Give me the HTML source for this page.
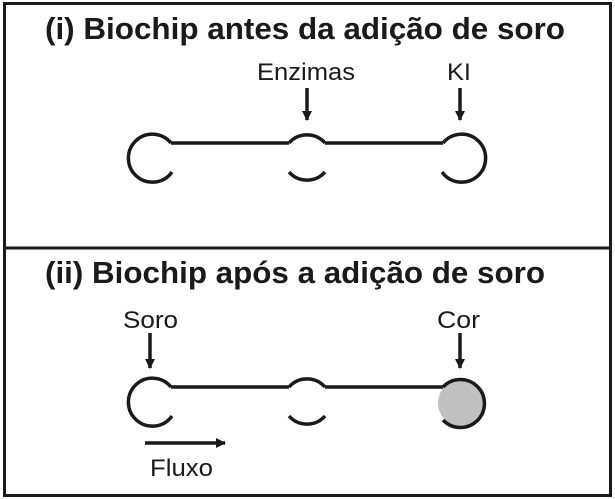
<!DOCTYPE html>
<html><head><meta charset="utf-8"><style>
html,body{margin:0;padding:0;background:#fff}
svg{display:block}
text{font-family:"Liberation Sans",Arial,sans-serif;fill:#1a1a1a}
</style></head><body>
<svg width="615" height="499" viewBox="0 0 615 499" xmlns="http://www.w3.org/2000/svg">
<defs><marker id="a" markerWidth="10" markerHeight="10" refX="9" refY="5" orient="auto" markerUnits="userSpaceOnUse"><path d="M0,0 L10,5 L0,10 z" fill="#1a1a1a"/></marker></defs>
<rect x="4.5" y="3.5" width="606" height="492" fill="none" stroke="#1a1a1a" stroke-width="3"/>
<line x1="4" y1="248" x2="611" y2="248" stroke="#1a1a1a" stroke-width="3"/>
<text x="45" y="39" font-size="31" font-weight="bold" textLength="520" lengthAdjust="spacingAndGlyphs">(i) Biochip antes da adição de soro</text>
<text x="257" y="80" font-size="24" textLength="98" lengthAdjust="spacingAndGlyphs">Enzimas</text>
<text x="447" y="80" font-size="24" textLength="24" lengthAdjust="spacingAndGlyphs">KI</text>
<g stroke="#1a1a1a" stroke-width="3.5" fill="none">
<line x1="307" y1="88" x2="307" y2="120" marker-end="url(#a)"/>
<line x1="460" y1="88" x2="460" y2="120" marker-end="url(#a)"/>
<line x1="171" y1="143" x2="289" y2="143"/>
<line x1="325" y1="143" x2="443" y2="143"/>
<path d="M171,143 A24,24 0 1 0 172,172"/>
<path d="M289,143 A24,24 0 0 1 325,143"/>
<path d="M289,172 A24,24 0 0 0 325,172"/>
<path d="M443,143 A24,24 0 1 1 442,172"/>
</g>
<text x="45" y="283" font-size="31" font-weight="bold" textLength="500" lengthAdjust="spacingAndGlyphs">(ii) Biochip após a adição de soro</text>
<text x="123" y="328" font-size="24" textLength="55" lengthAdjust="spacingAndGlyphs">Soro</text>
<text x="437" y="328" font-size="24" textLength="43" lengthAdjust="spacingAndGlyphs">Cor</text>
<text x="150" y="476" font-size="24" textLength="63" lengthAdjust="spacingAndGlyphs">Fluxo</text>
<circle cx="462" cy="403" r="24" fill="#c0c0c0"/>
<g stroke="#1a1a1a" stroke-width="3.5" fill="none">
<line x1="150" y1="333" x2="150" y2="368" marker-end="url(#a)"/>
<line x1="460" y1="333" x2="460" y2="368" marker-end="url(#a)"/>
<line x1="145" y1="443" x2="225" y2="443" marker-end="url(#a)"/>
<line x1="171" y1="387" x2="289" y2="387"/>
<line x1="325" y1="387" x2="443" y2="387"/>
<path d="M171,387 A24,24 0 1 0 172,416"/>
<path d="M289,387 A24,24 0 0 1 325,387"/>
<path d="M289,416 A24,24 0 0 0 325,416"/>
<path d="M443,387 A24,24 0 1 1 443,420"/>
</g>
</svg>
</body></html>
